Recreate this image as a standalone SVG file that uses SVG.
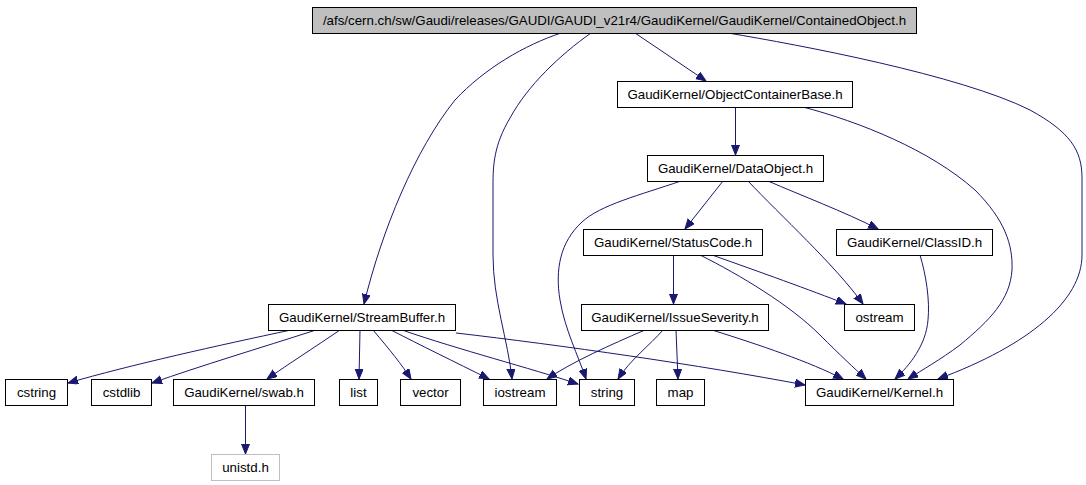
<svg xmlns="http://www.w3.org/2000/svg" width="1086" height="485" viewBox="0 0 1086 485">
<style>
.n rect{fill:#fff;stroke:#000;stroke-width:1}
.n text{font-family:"Liberation Sans",Arial,sans-serif;font-size:13.3px;text-anchor:middle;fill:#000}
#n_top rect{fill:#bfbfbf}
#n_unistd rect{stroke:#bfbfbf}
.e path{fill:none;stroke:#191970;stroke-width:1;marker-end:url(#ah)}
</style>
<defs>
<marker id="ah" markerUnits="userSpaceOnUse" markerWidth="11" markerHeight="9" refX="10" refY="4" orient="auto" viewBox="0 0 11 9">
<path d="M0,0 L10,4 L0,8 Z" fill="#191970" stroke="#191970" stroke-width="1"/>
</marker>
</defs>
<rect width="1086" height="485" fill="#fff"/>
<g id="edges" class="e">
<path d="M635,33 L706,81"/>
<path d="M561,33 C525,45 485,68 455,100 C415,150 382,230 364,304"/>
<path d="M591,33 C560,55 528,85 510,118 C494,145 493,165 493,185 L493,255 C493,300 508,340 512,379"/>
<path d="M728,33 C800,45 960,75 1030,110 C1070,132 1082,150 1082,178 L1082,255 C1082,300 1030,345 938,379"/>
<path d="M803,107 C860,122 930,150 975,190 C1005,220 1013,245 1012,270 C1010,300 990,320 960,345 C940,360 922,370 908,379"/>
<path d="M735.5,107 L735.5,155"/>
<path d="M723,181 L685,229"/>
<path d="M768,181 C800,195 845,212 878,229"/>
<path d="M748,181 C780,215 835,265 863,304"/>
<path d="M681,181 C640,195 600,205 582,222 C560,242 555,270 560,300 C565,330 578,355 586,379"/>
<path d="M673.5,255 L673.5,304"/>
<path d="M712,255 C760,272 810,290 846,304"/>
<path d="M700,255 C740,275 790,305 820,335 C840,355 854,368 866,379"/>
<path d="M920,255 C926,275 930,300 928,320 C926,345 910,365 895,379"/>
<path d="M645,330 C610,345 572,362 547,379"/>
<path d="M663,330 C650,345 630,360 618,379"/>
<path d="M676,330 L678,379"/>
<path d="M712,330 C760,345 810,362 843,379"/>
<path d="M291,330 C220,345 130,365 68,383"/>
<path d="M316,330 C260,348 200,366 152,383"/>
<path d="M340,330 C315,347 290,363 267,379"/>
<path d="M360,330 L359,379"/>
<path d="M373,330 C390,350 402,365 411,379"/>
<path d="M391,330 C420,345 455,362 489,379"/>
<path d="M402,330 C460,350 530,368 578,384"/>
<path d="M456,333 C560,345 700,365 805,385"/>
<path d="M245.5,405 L245.5,454"/>
</g>
<g id="n_top" class="n"><rect x="312.5" y="7.5" width="604" height="26"/><text x="614.5" y="25">/afs/cern.ch/sw/Gaudi/releases/GAUDI/GAUDI_v21r4/GaudiKernel/GaudiKernel/ContainedObject.h</text></g>
<g id="n_ocb" class="n"><rect x="617.5" y="81.5" width="235" height="26"/><text x="735" y="99">GaudiKernel/ObjectContainerBase.h</text></g>
<g id="n_dobj" class="n"><rect x="647.5" y="155.5" width="176" height="26"/><text x="735.5" y="173">GaudiKernel/DataObject.h</text></g>
<g id="n_sc" class="n"><rect x="583.5" y="229.5" width="179" height="26"/><text x="673" y="247">GaudiKernel/StatusCode.h</text></g>
<g id="n_cid" class="n"><rect x="836.5" y="229.5" width="156" height="26"/><text x="914.5" y="247">GaudiKernel/ClassID.h</text></g>
<g id="n_sb" class="n"><rect x="268.5" y="304.5" width="187" height="26"/><text x="362" y="322">GaudiKernel/StreamBuffer.h</text></g>
<g id="n_is" class="n"><rect x="581.5" y="304.5" width="187" height="26"/><text x="675" y="322">GaudiKernel/IssueSeverity.h</text></g>
<g id="n_os" class="n"><rect x="844.5" y="304.5" width="70" height="26"/><text x="879.5" y="322">ostream</text></g>
<g id="n_cstring" class="n"><rect x="5.5" y="379.5" width="62" height="26"/><text x="36.5" y="397">cstring</text></g>
<g id="n_cstdlib" class="n"><rect x="91.5" y="379.5" width="60" height="26"/><text x="121.5" y="397">cstdlib</text></g>
<g id="n_swab" class="n"><rect x="173.5" y="379.5" width="141" height="26"/><text x="244" y="397">GaudiKernel/swab.h</text></g>
<g id="n_list" class="n"><rect x="339.5" y="379.5" width="38" height="26"/><text x="358.5" y="397">list</text></g>
<g id="n_vector" class="n"><rect x="400.5" y="379.5" width="60" height="26"/><text x="430.5" y="397">vector</text></g>
<g id="n_iostream" class="n"><rect x="483.5" y="379.5" width="73" height="26"/><text x="520" y="397">iostream</text></g>
<g id="n_string" class="n"><rect x="579.5" y="379.5" width="55" height="26"/><text x="607" y="397">string</text></g>
<g id="n_map" class="n"><rect x="656.5" y="379.5" width="48" height="26"/><text x="680.5" y="397">map</text></g>
<g id="n_kernel" class="n"><rect x="805.5" y="379.5" width="148" height="26"/><text x="879.5" y="397">GaudiKernel/Kernel.h</text></g>
<g id="n_unistd" class="n"><rect x="211.5" y="454.5" width="68" height="26"/><text x="245.5" y="472">unistd.h</text></g>
</svg>
